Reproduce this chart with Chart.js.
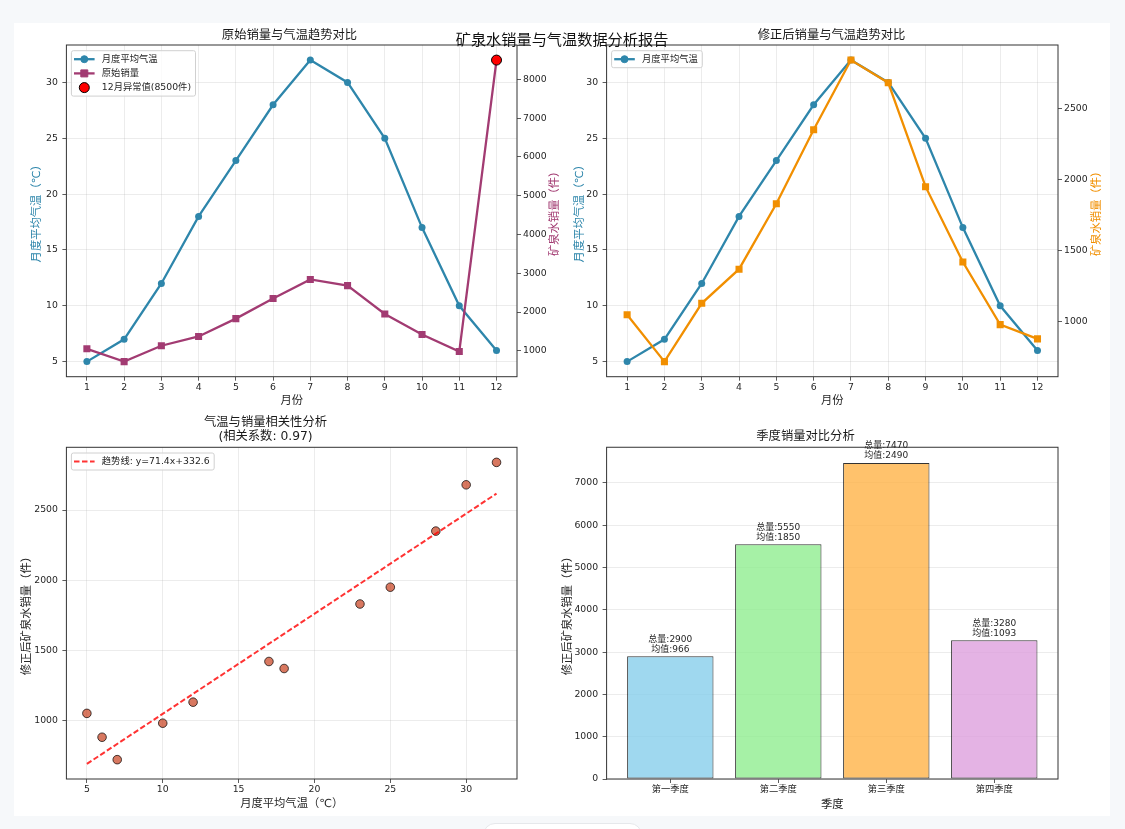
<!DOCTYPE html>
<html lang="zh">
<head>
<meta charset="utf-8">
<title>矿泉水销量与气温数据分析报告</title>
<script src="https://cdn.jsdelivr.net/npm/chart.js@4.4.1/dist/chart.umd.min.js"></script>
<style>
  html, body { margin: 0; padding: 0; background: #f6f8fa; }
  body { width: 1125px; height: 829px; position: relative; overflow: hidden; font-family: "DejaVu Sans", "Noto Sans CJK SC", sans-serif; }
  #figure { position: absolute; left: 14px; top: 23px; width: 1096px; height: 793px; background: #fff; }
  canvas { position: absolute; }
  #c1 { left: 14px; top: 23px; }
  #c2 { left: 553px; top: 23px; }
  #c3 { left: 14px; top: 410px; }
  #c4 { left: 553px; top: 410px; }
  #suptitle { position: absolute; left: 0; width: 1124px; top: 31px; line-height: 18px; text-align: center; font-size: 15.2px; color: #111; z-index: 2; }
  #pill { position: absolute; left: 483px; top: 823px; width: 157px; height: 24px; border-radius: 12px; background: #fff; border: 1px solid #e6e8eb; }
</style>
</head>
<body>
<div id="figure"></div>
<canvas id="c1" width="551" height="387"></canvas>
<canvas id="c2" width="557" height="387"></canvas>
<canvas id="c3" width="551" height="406"></canvas>
<canvas id="c4" width="557" height="406"></canvas>
<div id="suptitle">矿泉水销量与气温数据分析报告</div>
<div id="pill"></div>
<script>
// data
const months = [1, 2, 3, 4, 5, 6, 7, 8, 9, 10, 11, 12]
const avgTemp = [5, 7, 12, 18, 23, 28, 32, 30, 25, 17, 10, 6]
const rawSales = [1050, 720, 1130, 1370, 1830, 2350, 2840, 2680, 1950, 1420, 980, 8500]
const fixedSales = [1050, 720, 1130, 1370, 1830, 2350, 2840, 2680, 1950, 1420, 980, 880]
const outlierMonth = [12]
const outlierSales = [8500]
const trendX = [5, 32]
const trendY = [689.6, 2617.4]
const quarters = ['第一季度', '第二季度', '第三季度', '第四季度']
const quarterTotal = [2900, 5550, 7470, 3280]
const quarterMean = [966, 1850, 2490, 1093]

const tempTicks = [5, 10, 15, 20, 25, 30]
const rawSalesTicks = [1000, 2000, 3000, 4000, 5000, 6000, 7000, 8000]
const fixedSalesTicks = [1000, 1500, 2000, 2500]
const scatterTempTicks = [5, 10, 15, 20, 25, 30]
const quarterTicks = [0, 1000, 2000, 3000, 4000, 5000, 6000, 7000]

const FONT = '"DejaVu Sans", "Noto Sans CJK SC", sans-serif'
const BLUE = '#2E86AB'
const PINK = '#A23B72'
const ORANGE = '#F18F01'
const GRID = 'rgba(176, 176, 176, 0.3)'
const TICK = '#333'
const TXT = '#262626'
const barColors = ['rgba(135, 206, 235, 0.8)', 'rgba(144, 238, 144, 0.8)', 'rgba(255, 179, 71, 0.8)', 'rgba(221, 160, 221, 0.8)']

Chart.defaults.font.family = FONT
Chart.defaults.color = TXT

// matplotlib style 5% margins
function padRange(values, frac = 0.05) {
  const lo = Math.min(...values)
  const hi = Math.max(...values)
  const d = (hi - lo) * frac
  return [lo - d, hi + d]
}

const xy = (xs, ys) => xs.map((x, i) => ({ x, y: ys[i] }))

function drawMarker(ctx, m, x, y) {
  ctx.save()
  ctx.fillStyle = m.fill
  ctx.strokeStyle = m.edge || m.fill
  ctx.lineWidth = m.edgeWidth || 1
  ctx.beginPath()
  if (m.shape === 'rect') {
    const s = m.size / 2
    ctx.rect(x - s, y - s, m.size, m.size)
  } else {
    ctx.arc(x, y, m.size / 2, 0, Math.PI * 2)
  }
  ctx.fill()
  ctx.stroke()
  ctx.restore()
}

// frame, in-axes legend, right-hand ylabel and bar annotations
const panelDecor = {
  id: 'panelDecor',
  afterDatasetsDraw(chart, args, opts) {
    const { ctx, chartArea: a } = chart
    ctx.save()

    if (opts.barLabels) {
      const meta = chart.getDatasetMeta(0)
      ctx.font = `9px ${FONT}`
      ctx.fillStyle = TXT
      ctx.textAlign = 'center'
      ctx.textBaseline = 'middle'
      meta.data.forEach((bar, i) => {
        const lines = opts.barLabels[i]
        lines.forEach((t, k) => ctx.fillText(t, bar.x, bar.y - 7 - (lines.length - 1 - k) * 10))
      })
    }

    ctx.strokeStyle = TICK
    ctx.lineWidth = 1
    ctx.strokeRect(a.left, a.top, a.right - a.left, a.bottom - a.top)

    if (opts.sideTitle) {
      const st = opts.sideTitle
      ctx.save()
      ctx.translate(a.right + st.offset, (a.top + a.bottom) / 2)
      ctx.rotate(-Math.PI / 2)
      ctx.font = `11.3px ${FONT}`
      ctx.fillStyle = st.color
      ctx.textAlign = 'center'
      ctx.textBaseline = 'middle'
      ctx.fillText(st.text, 0, 0)
      ctx.restore()
    }

    if (opts.legend) {
      const items = opts.legend
      ctx.font = `9.3px ${FONT}`
      const textW = Math.max(...items.map(it => ctx.measureText(it.text).width))
      const x0 = a.left + 5
      const y0 = a.top + 5.7
      const rowH = 14.2
      const w = 30.4 + textW + 4.5
      const h = 2.8 + rowH * items.length
      ctx.fillStyle = 'rgba(255, 255, 255, 0.8)'
      ctx.strokeStyle = '#d0d0d0'
      ctx.lineWidth = 1
      ctx.beginPath()
      ctx.roundRect(x0, y0, w, h, 2)
      ctx.fill()
      ctx.stroke()
      items.forEach((it, i) => {
        const cy = y0 + 8.5 + i * rowH
        if (it.line) {
          ctx.save()
          ctx.strokeStyle = it.line.color
          ctx.lineWidth = it.line.width
          ctx.setLineDash(it.line.dash || [])
          ctx.beginPath()
          ctx.moveTo(x0 + 2.6, cy)
          ctx.lineTo(x0 + 23.2, cy)
          ctx.stroke()
          ctx.restore()
        }
        if (it.marker) drawMarker(ctx, it.marker, x0 + 12.9, cy)
        ctx.fillStyle = TXT
        ctx.textAlign = 'left'
        ctx.textBaseline = 'middle'
        ctx.fillText(it.text, x0 + 30.4, cy)
      })
    }
    ctx.restore()
  }
}
Chart.register(panelDecor)

function valueAxis(opts) {
  return {
    type: 'linear',
    position: opts.position,
    offset: false,
    min: opts.range[0],
    max: opts.range[1],
    afterBuildTicks: s => { s.ticks = opts.ticks.map(v => ({ value: v })) },
    afterFit: s => { if (opts.position === 'bottom') s.height = opts.size; else s.width = opts.size },
    border: { display: false },
    grid: {
      offset: false,
      color: GRID,
      lineWidth: 0.8,
      tickColor: TICK,
      tickLength: 4,
      drawOnChartArea: opts.grid !== false
    },
    ticks: {
      autoSkip: false,
      maxRotation: 0,
      padding: opts.position === 'bottom' ? 1.2 : (opts.position === 'left' ? 4.5 : 2),
      font: { size: 9.3 },
      color: TXT,
      callback: opts.format || (v => String(v))
    },
    title: opts.title
      ? {
          display: true,
          text: opts.title,
          color: opts.titleColor || TXT,
          font: { size: 11.3 },
          padding: opts.position === 'bottom' ? { top: 0, bottom: opts.titlePad } : { top: opts.titlePad, bottom: 0 }
        }
      : { display: false }
  }
}

function titleOpts(text, top, bottom, lineHeight) {
  return {
    display: true,
    text,
    color: '#1a1a1a',
    font: { size: 12.3, weight: 'normal', lineHeight: lineHeight || 1.2 },
    padding: { top, bottom }
  }
}

const tempLine = {
  label: '月度平均气温',
  yAxisID: 'y',
  data: xy(months, avgTemp),
  borderColor: BLUE,
  backgroundColor: BLUE,
  borderWidth: 2.3,
  pointRadius: 3.5,
  pointBorderWidth: 0,
  order: 2
}
const monthRange = padRange(months)
const tempRange = padRange(avgTemp)

// 1. raw sales vs temperature
new Chart(document.getElementById('c1'), {
  type: 'line',
  data: {
    datasets: [
      {
        type: 'scatter',
        label: '12月异常值(8500件)',
        yAxisID: 'y1',
        data: xy(outlierMonth, outlierSales),
        backgroundColor: '#ff0000',
        borderColor: '#000',
        borderWidth: 1,
        pointRadius: 5,
        order: 0
      },
      {
        label: '原始销量',
        yAxisID: 'y1',
        data: xy(months, rawSales),
        borderColor: PINK,
        backgroundColor: PINK,
        borderWidth: 2.3,
        pointStyle: 'rect',
        pointRadius: 5,
        pointBorderWidth: 0,
        order: 1
      },
      { ...tempLine }
    ]
  },
  options: {
    animation: false,
    responsive: false,
    layout: { padding: 0 },
    plugins: {
      legend: { display: false },
      tooltip: { enabled: false },
      title: titleOpts('原始销量与气温趋势对比', 5.3, 1.94),
      panelDecor: {
        sideTitle: { text: '矿泉水销量（件）', color: PINK, offset: 38 },
        legend: [
          { text: '月度平均气温', line: { color: BLUE, width: 2.3 }, marker: { shape: 'circle', size: 7, fill: BLUE } },
          { text: '原始销量', line: { color: PINK, width: 2.3 }, marker: { shape: 'rect', size: 7, fill: PINK } },
          { text: '12月异常值(8500件)', marker: { shape: 'circle', size: 10, fill: '#ff0000', edge: '#000' } }
        ]
      }
    },
    scales: {
      x: valueAxis({ position: 'bottom', range: monthRange, ticks: months, size: 33.3, title: '月份', titlePad: 2.2 }),
      y: valueAxis({ position: 'left', range: tempRange, ticks: tempTicks, size: 52.4, title: '月度平均气温（℃）', titleColor: BLUE, titlePad: 16.7 }),
      y1: valueAxis({ position: 'right', range: padRange(rawSales), ticks: rawSalesTicks, size: 48, grid: false })
    }
  }
})

// 2. corrected sales vs temperature
new Chart(document.getElementById('c2'), {
  type: 'line',
  data: {
    datasets: [
      {
        label: '修正后销量',
        yAxisID: 'y1',
        data: xy(months, fixedSales),
        borderColor: ORANGE,
        backgroundColor: ORANGE,
        borderWidth: 2.3,
        pointStyle: 'rect',
        pointRadius: 5,
        pointBorderWidth: 0,
        order: 1
      },
      { ...tempLine }
    ]
  },
  options: {
    animation: false,
    responsive: false,
    layout: { padding: 0 },
    plugins: {
      legend: { display: false },
      tooltip: { enabled: false },
      title: titleOpts('修正后销量与气温趋势对比', 5.3, 1.94),
      panelDecor: {
        sideTitle: { text: '矿泉水销量（件）', color: ORANGE, offset: 39 },
        legend: [
          { text: '月度平均气温', line: { color: BLUE, width: 2.3 }, marker: { shape: 'circle', size: 7, fill: BLUE } }
        ]
      }
    },
    scales: {
      x: valueAxis({ position: 'bottom', range: monthRange, ticks: months, size: 33.3, title: '月份', titlePad: 2.2 }),
      y: valueAxis({ position: 'left', range: tempRange, ticks: tempTicks, size: 53.6, title: '月度平均气温（℃）', titleColor: BLUE, titlePad: 20 }),
      y1: valueAxis({ position: 'right', range: padRange(fixedSales), ticks: fixedSalesTicks, size: 52, grid: false })
    }
  }
})

// 3. correlation scatter with trend line
new Chart(document.getElementById('c3'), {
  type: 'scatter',
  data: {
    datasets: [
      {
        label: '趋势线: y=71.4x+332.6',
        type: 'line',
        data: xy(trendX, trendY),
        borderColor: 'rgba(255, 0, 0, 0.8)',
        borderWidth: 2,
        borderDash: [5.5, 2.5],
        pointRadius: 0,
        order: 0
      },
      {
        label: '修正后销量',
        data: xy(avgTemp, fixedSales),
        backgroundColor: 'rgba(199, 62, 29, 0.7)',
        borderColor: 'rgba(0, 0, 0, 0.7)',
        borderWidth: 1,
        pointRadius: 4.3,
        order: 1
      }
    ]
  },
  options: {
    animation: false,
    responsive: false,
    layout: { padding: { left: 0, right: 48, top: 0, bottom: 0 } },
    plugins: {
      legend: { display: false },
      tooltip: { enabled: false },
      title: titleOpts(['气温与销量相关性分析', '(相关系数: 0.97)'], 6.3, 3.0, 14 / 12.3),
      panelDecor: {
        legend: [
          { text: '趋势线: y=71.4x+332.6', line: { color: 'rgba(255, 0, 0, 0.8)', width: 2, dash: [5.5, 2.5] } }
        ]
      }
    },
    scales: {
      x: valueAxis({ position: 'bottom', range: padRange(avgTemp.concat(trendX)), ticks: scatterTempTicks, size: 37, title: '月度平均气温（℃）', titlePad: 4.9 }),
      y: valueAxis({ position: 'left', range: padRange(fixedSales.concat(trendY)), ticks: fixedSalesTicks, size: 52.4, title: '修正后矿泉水销量（件）', titlePad: 6 })
    }
  }
})

// 4. quarterly totals
const quarterIdx = quarters.map((q, i) => i)
new Chart(document.getElementById('c4'), {
  type: 'bar',
  data: {
    datasets: [{
      label: '季度销量',
      data: xy(quarterIdx, quarterTotal),
      backgroundColor: barColors,
      borderColor: 'rgba(0, 0, 0, 0.8)',
      borderWidth: 1,
      borderSkipped: false,
      barPercentage: 0.8,
      categoryPercentage: 1.0
    }]
  },
  options: {
    animation: false,
    responsive: false,
    layout: { padding: { left: 0, right: 52, top: 0, bottom: 0 } },
    plugins: {
      legend: { display: false },
      tooltip: { enabled: false },
      title: titleOpts('季度销量对比分析', 19.3, 3.2),
      panelDecor: {
        barLabels: quarterTotal.map((t, i) => [`总量:${t}`, `均值:${quarterMean[i]}`])
      }
    },
    scales: {
      x: valueAxis({ position: 'bottom', range: padRange([-0.4, quarters.length - 0.6]), ticks: quarterIdx, size: 37, grid: false, title: '季度', titlePad: 4.2, format: v => quarters[v] }),
      y: valueAxis({ position: 'left', range: [0, Math.max(...quarterTotal) * 1.05], ticks: quarterTicks, size: 53.6, title: '修正后矿泉水销量（件）', titlePad: 8.2 })
    }
  }
})
</script>
</body>
</html>
